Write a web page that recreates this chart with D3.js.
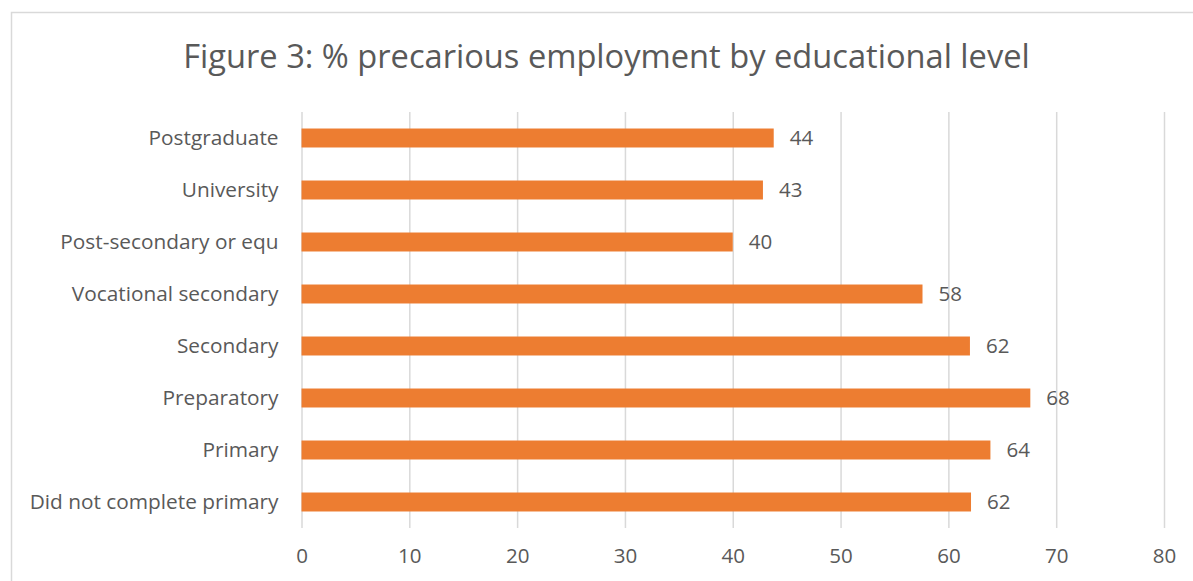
<!DOCTYPE html>
<html>
<head>
<meta charset="utf-8">
<script src="https://cdn.jsdelivr.net/npm/d3@7"></script>
<style>
  html, body { margin: 0; padding: 0; background: #fff; }
  svg { display: block; }
  text { font-family: "Open Sans", "Noto Sans", sans-serif; fill: #595959; }
</style>
</head>
<body>
<svg id="chart" width="1193" height="581"></svg>
<script>
// Education levels, top to bottom
const categories = [
  "Postgraduate",
  "University",
  "Post-secondary or equ",
  "Vocational secondary",
  "Secondary",
  "Preparatory",
  "Primary",
  "Did not complete primary"
];
// Share of workers in precarious employment (%)
const values = [43.8, 42.8, 40.0, 57.6, 62.0, 67.6, 63.9, 62.1];
const xTicks = [0, 10, 20, 30, 40, 50, 60, 70, 80];
const title = "Figure 3: % precarious employment by educational level";

const svg = d3.select("#chart");
const plot = { left: 301.5, right: 1164, top: 112, bottom: 528 };

// chart frame (runs off the right and bottom edges)
svg.append("rect")
  .attr("x", 11.5).attr("y", 12.5)
  .attr("width", 1300).attr("height", 700)
  .attr("fill", "#fff").attr("stroke", "#d9d9d9").attr("stroke-width", 1.5);

const x = d3.scaleLinear().domain([0, 80]).range([plot.left, plot.right]);
const y = d3.scaleBand().domain(categories)
  .range([plot.top, plot.bottom])
  .paddingInner(0.635).paddingOuter(0.3175);

// scale a text element's font so it spans a target width
function fitWidth(node, target, base) {
  const w = node.getComputedTextLength();
  return base * target / w;
}

// title
const t = svg.append("text")
  .attr("x", 606.5).attr("y", 68)
  .attr("text-anchor", "middle")
  .attr("font-size", 30)
  .text(title);
t.attr("font-size", fitWidth(t.node(), 847, 30));

// vertical gridlines and value axis labels
const xAxis = d3.axisBottom(x).tickValues(xTicks)
  .tickSize(-(plot.bottom - plot.top)).tickPadding(17);
const gx = svg.append("g")
  .attr("transform", `translate(0,${plot.bottom})`)
  .call(xAxis);
gx.select(".domain").remove();
gx.selectAll(".tick line").attr("stroke", "#d9d9d9").attr("stroke-width", 1.5);
gx.selectAll(".tick text")
  .attr("fill", "#595959")
  .attr("font-size", 20)
  .attr("font-family", "\"Open Sans\", sans-serif")
  .attr("dy", "0.9em");

// bars
svg.append("g").selectAll("rect")
  .data(values)
  .join("rect")
  .attr("x", x(0))
  .attr("y", (d, i) => y(categories[i]))
  .attr("width", d => x(d) - x(0))
  .attr("height", y.bandwidth())
  .attr("fill", "#ed7d31");

// value labels
const vl = svg.append("g").selectAll("text")
  .data(values)
  .join("text")
  .attr("x", d => x(d) + 16)
  .attr("y", (d, i) => y(categories[i]) + y.bandwidth() / 2)
  .attr("dy", "0.36em")
  .attr("font-size", 20)
  .text(d => d3.format(".0f")(d));

// category labels
const yAxis = d3.axisLeft(y).tickSize(0).tickPadding(23);
const gy = svg.append("g")
  .attr("transform", `translate(${plot.left},0)`)
  .call(yAxis);
gy.select(".domain").remove();
gy.selectAll(".tick text")
  .attr("fill", "#595959")
  .attr("font-size", 18)
  .attr("font-family", "\"Open Sans\", sans-serif");

// category font sized by the longest label
const longest = gy.selectAll(".tick text").filter(d => d === "Did not complete primary").node();
gy.selectAll(".tick text").attr("font-size", fitWidth(longest, 249, 18));

// numeric labels sized so a two-digit number is about 23.5px wide
const eighty = gx.selectAll(".tick text").filter(d => d === 80).node();
const numSize = fitWidth(eighty, 23.5, 20);
gx.selectAll(".tick text").attr("font-size", numSize);
vl.attr("font-size", numSize);
</script>
</body>
</html>
